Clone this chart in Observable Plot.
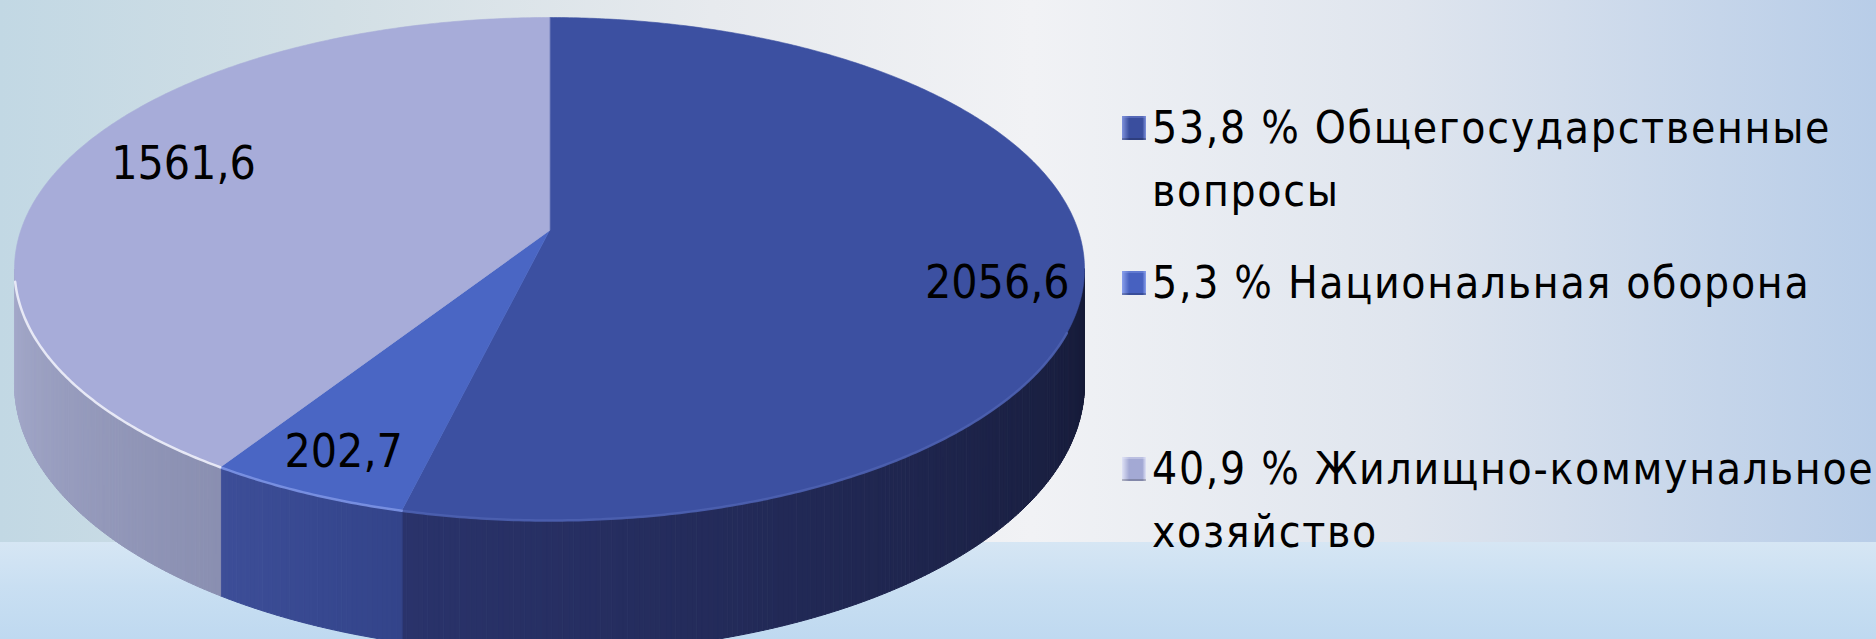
<!DOCTYPE html>
<html>
<head>
<meta charset="utf-8">
<script src="https://cdn.jsdelivr.net/npm/d3@7"></script>
<script src="https://cdn.jsdelivr.net/npm/@observablehq/plot@0.6"></script>
<style>
html, body { margin: 0; padding: 0; }
body {
  width: 1876px; height: 639px; overflow: hidden; position: relative;
  background:
    radial-gradient(ellipse 520px 70px at 1150px 548px, rgba(244,247,252,0.95) 0%, rgba(244,247,252,0.5) 50%, rgba(244,247,252,0) 100%) 0 542px / 100% 97px no-repeat,
    linear-gradient(to bottom, #d6e6f4 0px, #c9dff2 45px, #bfd9f0 97px) 0 542px / 100% 97px no-repeat,
    linear-gradient(to right, #c2d8e4 0%, #d2dfe5 18%, #e7eaee 38%, #f1f2f5 55%, #dfe5ee 75%, #b8cde8 100%) 0 0 / 100% 542px no-repeat;
}
#chart { position: absolute; left: 0; top: 0; }
#legend {
  position: absolute; left: 1122px; top: 0;
  font-family: "DejaVu Sans Condensed", "DejaVu Sans", sans-serif;
  font-stretch: condensed;
  font-size: 44px; letter-spacing: 1.7px; color: #000;
}
.item { position: absolute; left: 0; display: flex; align-items: flex-start; white-space: nowrap; }
.sw { width: 24px; height: 24px; margin-top: 20px; margin-right: 6px; flex: none; }
.txt { line-height: 63px; }
</style>
</head>
<body>
<div id="chart"></div>
<div id="legend"></div>
<script>
// ---- data ----
const categories = ["Общегосударственные вопросы", "Национальная оборона", "Жилищно-коммунальное хозяйство"];
const legendLines = [["Общегосударственные", "вопросы"], ["Национальная оборона"], ["Жилищно-коммунальное", "хозяйство"]];
const values = [2056.6, 202.7, 1561.6];

// ---- styles ----
const topColors = ["#3c50a1", "#4a66c4", "#a7acd9"];
const sideColorsA = ["#151a36", "#33448a", "#8a8fb1"];
const sideColorsB = ["#2a336b", "#3d4e98", "#a5aacb"];
const rimColors = ["#4d61b0", "#7c93e4", "#eef0fa"];
const swatchColors = ["#3a4e9e", "#4761c0", "#a3a9d4"];
const swatchLight = ["#7f92dc", "#8aa0ec", "#dfe2f5"];

// ---- layout (pixels) ----
const W = 1876, H = 639;
const CX = 549, CY = 230, A = 528.7, B = 245.6, K = 0.1531, DEPTH = 112;
const labelLayout = [{r: 0.84, dy: 28}, {r: 0.864, dy: 0}, {r: 0.745, dy: -16}];
const legendTops = [96, 251, 437];

const total = d3.sum(values);
let acc = 0;
const slices = values.map((v, i) => {
  const a0 = acc / total * 2 * Math.PI; acc += v;
  const a1 = acc / total * 2 * Math.PI;
  return {i, v, a0, a1};
});

function proj(t, r = 1) {
  const s = Math.sin(t), c = Math.cos(t);
  const den = 1 + K * r * c;
  return [CX + A * r * s / den, CY - B * r * c / den, den];
}

const step = Math.PI / 360;
// top faces
const tops = [];
slices.forEach(s => {
  const id = "t" + s.i;
  tops.push({id, x: CX, y: CY, color: topColors[s.i]});
  const n = Math.max(2, Math.ceil((s.a1 - s.a0) / step));
  for (let j = 0; j <= n; j++) {
    const p = proj(s.a0 + (s.a1 - s.a0) * j / n);
    tops.push({id, x: p[0], y: p[1], color: topColors[s.i]});
  }
});

// sides (visible front part)
const thL = Math.acos(-K), thR = 2 * Math.PI - thL;
const sides = [];
slices.forEach(s => {
  const lo = Math.max(s.a0, thL), hi = Math.min(s.a1, thR);
  if (hi <= lo) return;
  const n = Math.max(1, Math.ceil((hi - lo) / step));
  const interp = d3.interpolateLab(sideColorsA[s.i], sideColorsB[s.i]);
  for (let j = 0; j < n; j++) {
    const t0 = lo + (hi - lo) * j / n, t1 = lo + (hi - lo) * (j + 1) / n;
    const col = interp((j + 0.5) / n);
    const p0 = proj(t0), p1 = proj(t1);
    const id = `s${s.i}_${j}`;
    sides.push({id, x: p0[0], y: p0[1], color: col});
    sides.push({id, x: p1[0], y: p1[1], color: col});
    sides.push({id, x: p1[0], y: p1[1] + DEPTH / p1[2], color: col});
    sides.push({id, x: p0[0], y: p0[1] + DEPTH / p0[2], color: col});
  }
});

// rim highlights
const rims = [];
slices.forEach(s => {
  const lo = Math.max(s.a0, thL + 0.25), hi = Math.min(s.a1, thR - 0.05);
  if (hi <= lo) return;
  const n = Math.max(2, Math.ceil((hi - lo) / step));
  for (let j = 0; j <= n; j++) {
    const p = proj(lo + (hi - lo) * j / n);
    rims.push({id: "r" + s.i, x: p[0], y: p[1], color: rimColors[s.i]});
  }
});

// value labels
const labels = slices.map(s => {
  const L = labelLayout[s.i];
  const p = proj((s.a0 + s.a1) / 2, L.r);
  return {x: p[0], y: p[1] + L.dy, text: s.v.toFixed(1).replace(".", ",")};
});

const chart = Plot.plot({
  width: W, height: H, margin: 0,
  x: {type: "linear", domain: [0, W], range: [0, W], axis: null},
  y: {type: "linear", domain: [0, H], range: [0, H], axis: null},
  color: {type: "identity"},
  style: {background: "transparent", overflow: "hidden"},
  marks: [
    Plot.line(sides, {x: "x", y: "y", z: "id", fill: "color", stroke: "color", strokeWidth: 1, curve: "linear-closed"}),
    Plot.line(tops, {x: "x", y: "y", z: "id", fill: "color", stroke: "color", strokeWidth: 0.6, curve: "linear-closed"}),
    Plot.line(rims, {x: "x", y: "y", z: "id", stroke: "color", strokeWidth: 2.5, strokeOpacity: 0.9}),
    Plot.text(labels, {x: "x", y: "y", text: "text", fill: "#000", fontSize: 46,
      fontFamily: "'DejaVu Sans Condensed', 'DejaVu Sans', sans-serif", textAnchor: "middle", lineAnchor: "middle"})
  ]
});
document.getElementById("chart").appendChild(chart);
chart.querySelectorAll("text").forEach(t => t.setAttribute("font-stretch", "condensed"));

// legend
const legend = document.getElementById("legend");
slices.forEach(s => {
  const pct = (s.v / total * 100).toFixed(1).replace(".", ",");
  const item = document.createElement("div");
  item.className = "item";
  item.style.top = legendTops[s.i] + "px";
  const sw = document.createElement("div");
  sw.className = "sw";
  sw.style.background = `linear-gradient(to right, ${swatchLight[s.i]} 0%, ${swatchColors[s.i]} 30%, ${swatchColors[s.i]} 85%, ${swatchLight[s.i]} 100%)`;
  sw.style.boxShadow = `inset 0 2px 0 ${swatchLight[s.i]}66, inset 0 -2px 0 #00000033`;
  const txt = document.createElement("div");
  txt.className = "txt";
  const lines = legendLines[s.i].slice();
  lines[0] = pct + " % " + lines[0];
  txt.innerHTML = lines.map(l => `<div>${l}</div>`).join("");
  item.appendChild(sw); item.appendChild(txt);
  legend.appendChild(item);
});
</script>
</body>
</html>
